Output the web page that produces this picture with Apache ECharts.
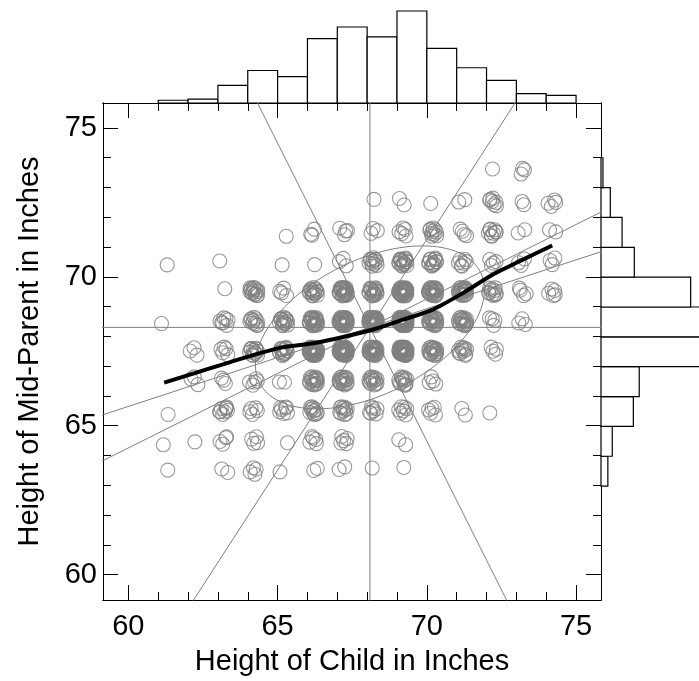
<!DOCTYPE html>
<html><head><meta charset="utf-8">
<script src="https://cdn.jsdelivr.net/npm/echarts@6/dist/echarts.min.js"></script>
<style>html,body{margin:0;padding:0;background:#fff}#c{width:699px;height:681px}</style>
</head><body><div id="c"></div>
<script>
// ---- data (Galton: mid-parent vs child height, counts per cell) ----
const CHILD_HEIGHTS = [61.2,62.2,63.2,64.2,65.2,66.2,67.2,68.2,69.2,70.2,71.2,72.2,73.2,74.2];
const PARENT_HEIGHTS = [73.5,72.5,71.5,70.5,69.5,68.5,67.5,66.5,65.5,64.5,63.5];
const COUNTS = [
  [0,0,0,0,0,0,0,0,0,0,0,1,3,0],
  [0,0,0,0,0,0,0,1,2,1,2,7,2,4],
  [0,0,0,0,1,3,4,3,5,10,4,9,2,2],
  [1,0,1,0,1,1,3,12,18,14,7,4,3,3],
  [0,0,1,16,4,17,27,20,33,25,20,11,4,5],
  [1,0,7,11,16,25,31,34,48,21,18,4,3,0],
  [0,3,5,14,15,36,38,28,38,19,11,4,0,0],
  [0,3,3,5,2,17,17,14,13,4,0,0,0,0],
  [1,0,9,5,7,11,11,7,7,5,2,1,0,0],
  [1,1,4,4,1,5,5,0,2,0,0,0,0,0],
  [1,0,2,4,1,2,2,1,1,0,0,0,0,0]
];
// small fixed jitter offsets (inches) used to separate overlapping circles
const JITTER_X = [0.03,-0.09,0.12,-0.04,0.07,-0.13,0.09,0.00,-0.07,0.13,-0.10,0.04,0.08,-0.01,-0.12,0.10,-0.05,0.01,0.13,-0.08,0.05,-0.14,0.09,-0.03,0.12,-0.09,0.03,-0.05,0.08,-0.12,0.04,0.14,-0.07,0.00,0.10,-0.13,0.07,-0.04,0.01,-0.10,0.13,-0.01,0.05,-0.08,0.12,-0.03,0.08,-0.14];
const JITTER_Y = [-0.04,0.08,0.01,-0.12,0.10,-0.03,0.13,-0.09,0.05,-0.07,0.12,-0.13,0.04,0.09,-0.05,-0.10,0.14,0.00,0.07,-0.08,0.12,0.03,-0.14,0.08,-0.01,-0.07,0.10,-0.10,0.04,0.13,-0.09,0.05,-0.04,0.12,-0.13,0.01,0.09,-0.05,0.14,0.07,-0.12,0.03,-0.08,0.10,0.00,-0.14,0.08,-0.03];
// smoothed curve
const SMOOTH_X = [61.2,62.2,63.2,64.2,65.2,66.2,67.2,68.2,69.2,70.2,71.2,72.2,73.2,74.2];
const SMOOTH_Y = [66.45,66.76,67.07,67.38,67.64,67.77,67.98,68.23,68.56,68.9,69.45,70.07,70.57,71.05];
// marginal histograms (1-inch bins)
const CHILD_BIN_LO = [61,62,63,64,65,66,67,68,69,70,71,72,73,74];
const CHILD_BIN_COUNTS = [5,7,32,59,48,117,138,120,167,99,64,41,17,14];
const PARENT_BIN_LO = [63,64,65,66,67,68,69,70,71,72,73];
const PARENT_BIN_COUNTS = [14,23,66,78,211,219,183,68,43,19,4];
// axes
const AXIS_RANGE = [59.15, 75.835];
const MINOR_TICKS = [60,61,62,63,64,65,66,67,68,69,70,71,72,73,74,75];
const MAJOR_TICKS = [60,65,70,75];
const ELLIPSE_LEVEL = 0.68;

const FONT = 'Liberation Sans, Arial, Helvetica, sans-serif';
const GRAY = '#7f7f7f';

// ---- build points ----
const points = [];
COUNTS.forEach((row, i) => row.forEach((k, j) => {
  const s = (i * 5 + j * 3) % JITTER_X.length;
  for (let t = 0; t < k; t++) {
    const q = (s + t) % JITTER_X.length;
    points.push([CHILD_HEIGHTS[j] + JITTER_X[q], PARENT_HEIGHTS[i] + JITTER_Y[q]]);
  }
}));

// ---- statistics ----
let n = 0, sx = 0, sy = 0;
COUNTS.forEach((row, i) => row.forEach((k, j) => { n += k; sx += k * CHILD_HEIGHTS[j]; sy += k * PARENT_HEIGHTS[i]; }));
const mx = sx / n, my = sy / n;
let vxx = 0, vyy = 0, vxy = 0;
COUNTS.forEach((row, i) => row.forEach((k, j) => {
  const dx = CHILD_HEIGHTS[j] - mx, dy = PARENT_HEIGHTS[i] - my;
  vxx += k * dx * dx; vyy += k * dy * dy; vxy += k * dx * dy;
}));
vxx /= (n - 1); vyy /= (n - 1); vxy /= (n - 1);
const theta = 0.5 * Math.atan2(2 * vxy, vxx - vyy);
const slopes = [vxy / vxx, vyy / vxy, Math.tan(theta), -1 / Math.tan(theta)];
function lineThrough(s) {
  if (Math.abs(s) <= 1) return [[50, my + s * (50 - mx)], [85, my + s * (85 - mx)]];
  return [[mx + (50 - my) / s, 50], [mx + (85 - my) / s, 85]];
}
const cLev = Math.sqrt(-2 * Math.log(1 - ELLIPSE_LEVEL));
const L11 = Math.sqrt(vxx), L21 = vxy / L11, L22 = Math.sqrt(vyy - L21 * L21);
const ellipse = [];
for (let t = 0; t <= 120; t++) {
  const a = t / 120 * 2 * Math.PI;
  ellipse.push([mx + cLev * L11 * Math.cos(a), my + cLev * (L21 * Math.cos(a) + L22 * Math.sin(a))]);
}

function grayLine(data) {
  return { type: 'line', xAxisIndex: 0, yAxisIndex: 0, data, symbol: 'none', silent: true, clip: true,
    lineStyle: { color: GRAY, width: 1 }, z: 3 };
}

function frameAxis(gridIndex, position, ticks, len, extra) {
  return Object.assign({
    gridIndex, type: 'value', position, min: AXIS_RANGE[0], max: AXIS_RANGE[1],
    axisLine: { show: true, onZero: false, lineStyle: { color: '#000', width: 1 } },
    axisTick: { show: true, inside: true, length: len, customValues: ticks, lineStyle: { color: '#000', width: 1 } },
    axisLabel: { show: false },
    splitLine: { show: false }
  }, extra || {});
}
const labelStyle = { show: true, customValues: MAJOR_TICKS, fontSize: 29, color: '#000', fontFamily: FONT };
const nameStyle = { fontSize: 29, color: '#000', fontFamily: FONT };

const topHist = CHILD_BIN_LO.map((lo, i) => [lo, lo + 1, CHILD_BIN_COUNTS[i]]);
const rightHist = PARENT_BIN_LO.map((lo, i) => [lo, lo + 1, PARENT_BIN_COUNTS[i]]);

const chart = echarts.init(document.getElementById('c'), null, { renderer: 'canvas' });
chart.setOption({
  animation: false,
  backgroundColor: '#fff',
  grid: [
    { left: 103, top: 103, width: 498, height: 498 },
    { left: 103, top: 0, width: 498, height: 103 },
    { left: 601, top: 103, width: 98, height: 498 }
  ],
  xAxis: [
    frameAxis(0, 'bottom', MINOR_TICKS, 8, {
      axisLabel: Object.assign({ margin: 12 }, labelStyle),
      name: 'Height of Child in Inches', nameLocation: 'middle', nameGap: 47, nameTextStyle: nameStyle
    }),
    frameAxis(0, 'bottom', MAJOR_TICKS, 15),
    frameAxis(0, 'top', MINOR_TICKS, 8),
    frameAxis(0, 'top', MAJOR_TICKS, 15),
    { gridIndex: 1, type: 'value', min: AXIS_RANGE[0], max: AXIS_RANGE[1], show: false },
    { gridIndex: 2, type: 'value', min: 0, max: 200, show: false }
  ],
  yAxis: [
    frameAxis(0, 'left', MINOR_TICKS, 8, {
      axisLabel: Object.assign({ margin: 6 }, labelStyle),
      name: 'Height of Mid-Parent in Inches', nameLocation: 'middle', nameGap: 59, nameTextStyle: nameStyle
    }),
    frameAxis(0, 'left', MAJOR_TICKS, 15),
    frameAxis(0, 'right', MINOR_TICKS, 8),
    frameAxis(0, 'right', MAJOR_TICKS, 15),
    { gridIndex: 1, type: 'value', min: 0, max: 187, show: false },
    { gridIndex: 2, type: 'value', min: AXIS_RANGE[0], max: AXIS_RANGE[1], show: false }
  ],
  series: [
    {
      type: 'scatter', xAxisIndex: 0, yAxisIndex: 0, data: points, symbol: 'circle', symbolSize: 14,
      itemStyle: { color: 'rgba(0,0,0,0)', borderColor: GRAY, borderWidth: 1.1 },
      silent: true, z: 2, large: false
    },
    grayLine([[mx, 50], [mx, 85]]),
    grayLine([[50, my], [85, my]]),
    ...slopes.map(s => grayLine(lineThrough(s))),
    grayLine(ellipse),
    {
      type: 'line', xAxisIndex: 0, yAxisIndex: 0, data: SMOOTH_X.map((x, i) => [x, SMOOTH_Y[i]]),
      symbol: 'none', smooth: 0.25, silent: true, lineStyle: { color: '#000', width: 4 }, z: 5
    },
    {
      type: 'custom', xAxisIndex: 4, yAxisIndex: 4, data: topHist, clip: false, silent: true,
      encode: { x: [0, 1], y: 2 },
      renderItem: (params, api) => {
        const p0 = api.coord([api.value(0), 0]);
        const p1 = api.coord([api.value(1), api.value(2)]);
        return { type: 'rect', shape: { x: p0[0], y: p1[1], width: p1[0] - p0[0], height: p0[1] - p1[1] },
          style: { fill: '#fff', stroke: '#000', lineWidth: 1.2 } };
      }
    },
    {
      type: 'custom', xAxisIndex: 5, yAxisIndex: 5, data: rightHist, clip: false, silent: true,
      encode: { x: 2, y: [0, 1] },
      renderItem: (params, api) => {
        const p0 = api.coord([0, api.value(1)]);
        const p1 = api.coord([api.value(2), api.value(0)]);
        return { type: 'rect', shape: { x: p0[0], y: p0[1], width: p1[0] - p0[0], height: p1[1] - p0[1] },
          style: { fill: '#fff', stroke: '#000', lineWidth: 1.2 } };
      }
    }
  ]
});
</script>
</body></html>
